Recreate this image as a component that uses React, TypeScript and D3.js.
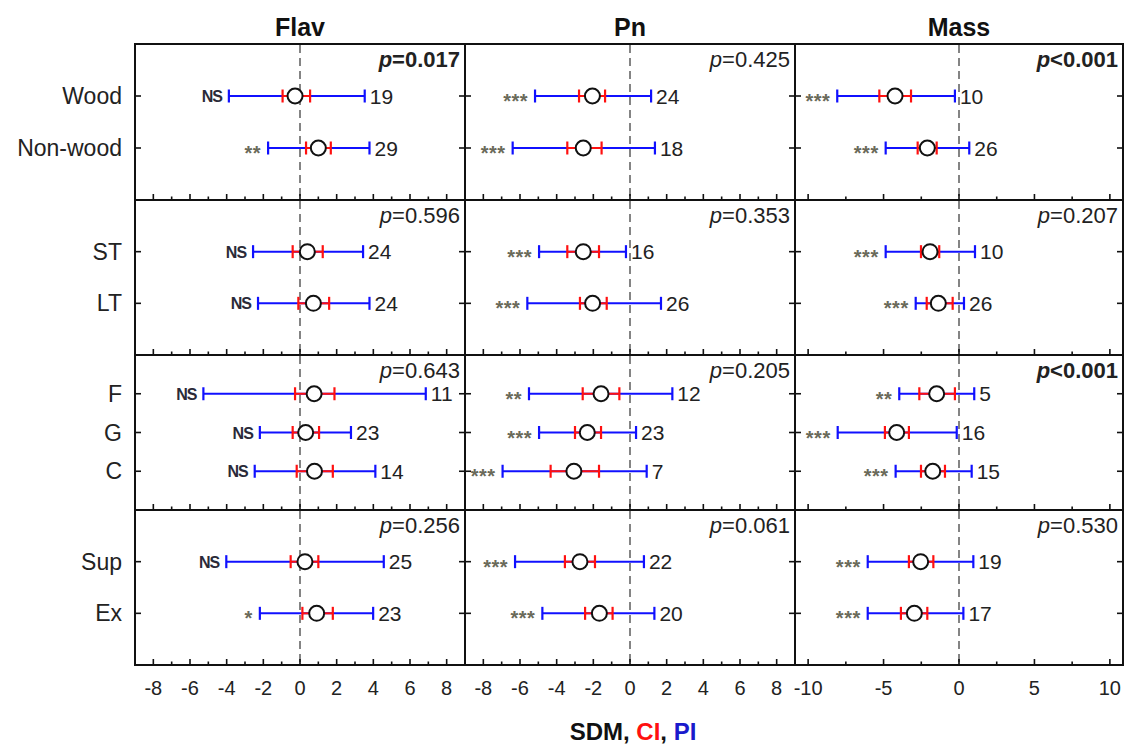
import React from "react";
import * as d3 from "d3";

// ---------- DATA ----------
const variables = ["Flav", "Pn", "Mass"];
const groupLabels = [
  ["Wood", "Non-wood"],
  ["ST", "LT"],
  ["F", "G", "C"],
  ["Sup", "Ex"],
];
// category order: Wood, Non-wood, ST, LT, F, G, C, Sup, Ex
const categories = ["Wood", "Non-wood", "ST", "LT", "F", "G", "C", "Sup", "Ex"];

const flavMean = [-0.27, 1.0, 0.4, 0.73, 0.77, 0.31, 0.79, 0.27, 0.91];
const flavCiLow = [-0.95, 0.33, -0.4, -0.09, -0.27, -0.4, -0.18, -0.51, 0.13];
const flavCiHigh = [0.55, 1.68, 1.24, 1.59, 1.88, 1.04, 1.79, 1.0, 1.79];
const flavPiLow = [-3.88, -1.74, -2.56, -2.29, -5.27, -2.19, -2.47, -4.02, -2.19];
const flavPiHigh = [3.53, 3.79, 3.44, 3.79, 6.86, 2.78, 4.11, 4.57, 3.99];
const flavN = [19, 29, 24, 24, 11, 23, 14, 25, 23];
const flavSig = ["NS", "**", "NS", "NS", "NS", "NS", "NS", "NS", "*"];

const pnMean = [-2.05, -2.55, -2.55, -2.04, -1.58, -2.33, -3.06, -2.73, -1.67];
const pnCiLow = [-2.78, -3.42, -3.42, -2.73, -2.58, -3.0, -4.33, -3.55, -2.45];
const pnCiHigh = [-1.36, -1.55, -1.69, -1.27, -0.58, -1.58, -1.69, -1.91, -0.95];
const pnPiLow = [-5.18, -6.4, -4.96, -5.6, -5.51, -4.96, -6.95, -6.27, -4.78];
const pnPiHigh = [1.15, 1.36, -0.22, 1.69, 2.31, 0.33, 0.91, 0.76, 1.33];
const pnN = [24, 18, 16, 26, 12, 23, 7, 22, 20];
const pnSig = ["***", "***", "***", "***", "**", "***", "***", "***", "***"];

const massMean = [-4.24, -2.1, -1.92, -1.37, -1.48, -4.13, -1.74, -2.54, -2.96];
const massCiLow = [-5.28, -2.74, -2.52, -2.14, -2.63, -4.91, -2.52, -3.32, -3.85];
const massCiHigh = [-3.18, -1.48, -1.31, -0.42, -0.27, -3.32, -0.93, -1.7, -2.1];
const massPiLow = [-8.07, -4.86, -4.86, -2.87, -3.96, -8.04, -4.2, -6.05, -6.05];
const massPiHigh = [-0.27, 0.68, 1.06, 0.33, 1.01, -0.15, 0.84, 0.95, 0.29];
const massN = [10, 26, 10, 26, 5, 16, 15, 19, 17];
const massSig = ["***", "***", "***", "***", "**", "***", "***", "***", "***"];

const flavP = ["=0.017", "=0.596", "=0.643", "=0.256"];
const flavPBold = [true, false, false, false];
const pnP = ["=0.425", "=0.353", "=0.205", "=0.061"];
const pnPBold = [false, false, false, false];
const massP = ["<0.001", "=0.207", "<0.001", "=0.530"];
const massPBold = [true, false, true, false];

const flavTicks = [-8, -6, -4, -2, 0, 2, 4, 6, 8];
const pnTicks = [-8, -6, -4, -2, 0, 2, 4, 6, 8];
const massTicks = [-10, -5, 0, 5, 10];
const flavMinor = [-7, -5, -3, -1, 1, 3, 5, 7];
const pnMinor = [-7, -5, -3, -1, 1, 3, 5, 7];
const massMinor = [-7.5, -2.5, 2.5, 7.5];

// ---------- LAYOUT ----------
const W = 1126;
const H = 747;
const colX: [number, number][] = [
  [135, 465],
  [465, 795],
  [795, 1123],
];
const rowY: [number, number][] = [
  [44, 200],
  [200, 355],
  [355, 510],
  [510, 665],
];
const xDomains: [number, number][] = [
  [-9, 9],
  [-9, 9],
  [-10.87, 10.87],
];
const FONT = "'Liberation Sans', Arial, Helvetica, sans-serif";
const BLUE = "#1010ff";
const RED = "#ff1010";

type Series = {
  mean: number[];
  ciLow: number[];
  ciHigh: number[];
  piLow: number[];
  piHigh: number[];
  n: number[];
  sig: string[];
  p: string[];
  pBold: boolean[];
  ticks: number[];
  minor: number[];
};

const series: Series[] = [
  { mean: flavMean, ciLow: flavCiLow, ciHigh: flavCiHigh, piLow: flavPiLow, piHigh: flavPiHigh, n: flavN, sig: flavSig, p: flavP, pBold: flavPBold, ticks: flavTicks, minor: flavMinor },
  { mean: pnMean, ciLow: pnCiLow, ciHigh: pnCiHigh, piLow: pnPiLow, piHigh: pnPiHigh, n: pnN, sig: pnSig, p: pnP, pBold: pnPBold, ticks: pnTicks, minor: pnMinor },
  { mean: massMean, ciLow: massCiLow, ciHigh: massCiHigh, piLow: massPiLow, piHigh: massPiHigh, n: massN, sig: massSig, p: massP, pBold: massPBold, ticks: massTicks, minor: massMinor },
];

function Panel({ c, r }: { c: number; r: number }) {
  const s = series[c];
  const x = d3.scaleLinear().domain(xDomains[c]).range(colX[c]);
  const labels = groupLabels[r];
  const y = d3.scalePoint<string>().domain(labels).range(rowY[r]).padding(1);
  const [x0, x1] = colX[c];
  const [y0, y1] = rowY[r];
  const cap = 6.5;
  return (
    <g>
      {/* zero line */}
      <line x1={x(0)} x2={x(0)} y1={y0 + 1} y2={y1 - 1} stroke="#666" strokeWidth={1.6} strokeDasharray="8,5" />
      {/* bottom ticks */}
      {s.ticks.map((t) => (
        <line key={"M" + t} x1={x(t)} x2={x(t)} y1={y1} y2={y1 - 6} stroke="#111" strokeWidth={1.6} />
      ))}
      {s.minor.map((t) => (
        <line key={"m" + t} x1={x(t)} x2={x(t)} y1={y1} y2={y1 - 3.5} stroke="#111" strokeWidth={1.6} />
      ))}
      {/* y ticks */}
      {labels.map((lab) => (
        <g key={"yt" + lab}>
          <line x1={x0} x2={x0 + 6} y1={y(lab)} y2={y(lab)} stroke="#111" strokeWidth={1.6} />
          <line x1={x1} x2={x1 - 6} y1={y(lab)} y2={y(lab)} stroke="#111" strokeWidth={1.6} />
        </g>
      ))}
      {labels.map((lab) => {
        const i = categories.indexOf(lab);
        const yy = y(lab) as number;
        const sig = s.sig[i];
        const isStar = sig.includes("*");
        return (
          <g key={lab}>
            <line x1={x(s.piLow[i])} x2={x(s.piHigh[i])} y1={yy} y2={yy} stroke={BLUE} strokeWidth={2} />
            <line x1={x(s.piLow[i])} x2={x(s.piLow[i])} y1={yy - cap} y2={yy + cap} stroke={BLUE} strokeWidth={2.2} />
            <line x1={x(s.piHigh[i])} x2={x(s.piHigh[i])} y1={yy - cap} y2={yy + cap} stroke={BLUE} strokeWidth={2.2} />
            <line x1={x(s.ciLow[i])} x2={x(s.ciHigh[i])} y1={yy} y2={yy} stroke={RED} strokeWidth={2} />
            <line x1={x(s.ciLow[i])} x2={x(s.ciLow[i])} y1={yy - cap} y2={yy + cap} stroke={RED} strokeWidth={2.2} />
            <line x1={x(s.ciHigh[i])} x2={x(s.ciHigh[i])} y1={yy - cap} y2={yy + cap} stroke={RED} strokeWidth={2.2} />
            <circle cx={x(s.mean[i])} cy={yy} r={7.5} fill="#fff" stroke="#111" strokeWidth={2} />
            <text x={x(s.piHigh[i]) + 5} y={yy + 7.5} fontSize={21} fontFamily={FONT} fill="#222">
              {s.n[i]}
            </text>
            <text
              x={x(s.piLow[i]) - 7}
              y={isStar ? yy + 12 : yy + 6}
              fontSize={isStar ? 20 : 16}
              fontWeight="bold"
              fontFamily={FONT}
              textAnchor="end"
              fill={isStar ? "#6a6a5a" : "#2a2a38"}
              letterSpacing={isStar ? 0.5 : -1}
            >
              {sig}
            </text>
          </g>
        );
      })}
      {/* p value */}
      <text
        x={x1 - 5}
        y={y0 + 23}
        fontSize={22}
        fontFamily={FONT}
        textAnchor="end"
        fontWeight={s.pBold[r] ? "bold" : "normal"}
        fill="#222"
      >
        <tspan fontStyle="italic">p</tspan>
        {s.p[r]}
      </text>
      {/* frame */}
      <rect x={x0} y={y0} width={x1 - x0} height={y1 - y0} fill="none" stroke="#111" strokeWidth={2} />
    </g>
  );
}

export default function App() {
  return (
    <svg width={W} height={H} style={{ position: "absolute", left: 0, top: 0, background: "#fff" }}>
      <rect x={0} y={0} width={W} height={H} fill="#fff" />
      {/* column titles */}
      {variables.map((v, c) => (
        <text
          key={v}
          x={(colX[c][0] + colX[c][1]) / 2}
          y={36}
          textAnchor="middle"
          fontSize={25}
          fontWeight="bold"
          fontFamily={FONT}
          fill="#111"
        >
          {v}
        </text>
      ))}
      {/* row labels */}
      {groupLabels.map((labels, r) => {
        const y = d3.scalePoint<string>().domain(labels).range(rowY[r]).padding(1);
        return labels.map((lab) => (
          <text
            key={lab}
            x={122}
            y={(y(lab) as number) + 8}
            textAnchor="end"
            fontSize={23}
            fontFamily={FONT}
            fill="#222"
          >
            {lab}
          </text>
        ));
      })}
      {variables.map((v, c) => (
        <g key={"p" + v}>
          {rowY.map((_, r) => (
            <Panel key={r} c={c} r={r} />
          ))}
        </g>
      ))}
      {/* x tick labels */}
      {variables.map((v, c) => {
        const x = d3.scaleLinear().domain(xDomains[c]).range(colX[c]);
        return series[c].ticks.map((t) => (
          <text
            key={v + t}
            x={x(t)}
            y={695}
            textAnchor="middle"
            fontSize={20}
            fontFamily={FONT}
            fill="#222"
          >
            {String(t)}
          </text>
        ));
      })}
      {/* axis title */}
      <text x={633} y={740} textAnchor="middle" fontSize={24} fontWeight="bold" fontFamily={FONT}>
        <tspan fill="#111">SDM, </tspan>
        <tspan fill={RED}>CI</tspan>
        <tspan fill="#111">, </tspan>
        <tspan fill="#1a1acc">PI</tspan>
      </text>
    </svg>
  );
}
